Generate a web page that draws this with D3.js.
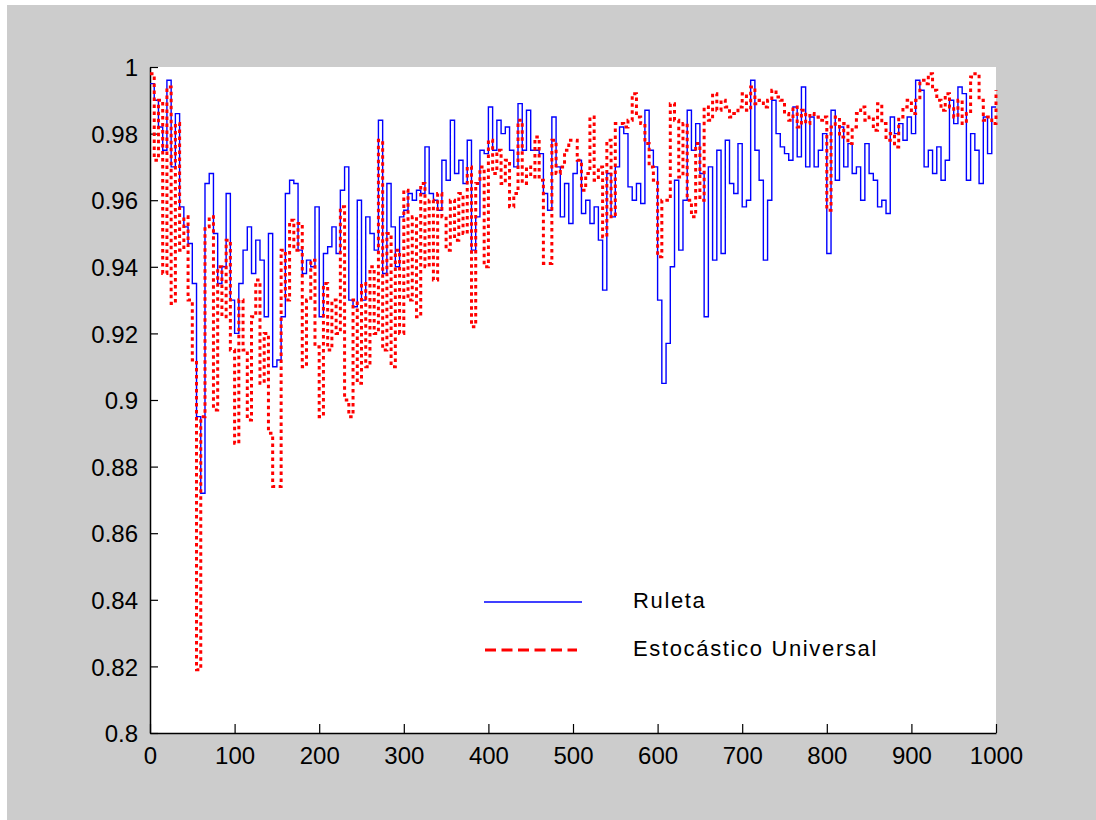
<!DOCTYPE html>
<html>
<head>
<meta charset="utf-8">
<script src="https://cdn.jsdelivr.net/npm/d3@7"></script>
<style>
  body { margin: 0; background: #ffffff; }
  text { font-family: "Liberation Sans", Arial, sans-serif; fill: #000; }
</style>
</head>
<body>
<svg id="chart" width="1096" height="820"></svg>
<script>
// samples every 5 generations, 0..1000
const step = 5;

const ruleta = [
  0.995, 0.990, 0.982, 0.975, 0.996, 0.970, 0.986, 0.958, 0.952, 0.947,
  0.935, 0.895, 0.872, 0.965, 0.968, 0.950, 0.935, 0.940, 0.962, 0.930,
  0.920, 0.935, 0.945, 0.952, 0.938, 0.948, 0.942, 0.925, 0.950, 0.910,
  0.912, 0.925, 0.962, 0.966, 0.965, 0.945, 0.938, 0.942, 0.940, 0.958,
  0.925, 0.944, 0.946, 0.952, 0.944, 0.963, 0.970, 0.930, 0.928, 0.960,
  0.930, 0.955, 0.950, 0.945, 0.984, 0.938, 0.965, 0.952, 0.940, 0.955,
  0.957, 0.962, 0.960, 0.963, 0.962, 0.976, 0.962, 0.960, 0.957, 0.972,
  0.966, 0.984, 0.968, 0.972, 0.965, 0.978, 0.945, 0.955, 0.975, 0.974,
  0.988, 0.975, 0.984, 0.980, 0.982, 0.975, 0.970, 0.989, 0.975, 0.987,
  0.975, 0.975, 0.974, 0.962, 0.957, 0.985, 0.970, 0.955, 0.965, 0.953,
  0.968, 0.972, 0.956, 0.960, 0.953, 0.958, 0.948, 0.933, 0.968, 0.955,
  0.970, 0.982, 0.980, 0.964, 0.960, 0.965, 0.959, 0.987, 0.975, 0.970,
  0.930, 0.905, 0.917, 0.940, 0.966, 0.945, 0.960, 0.987, 0.975, 0.983,
  0.968, 0.925, 0.970, 0.942, 0.975, 0.944, 0.978, 0.965, 0.962, 0.977,
  0.958, 0.960, 0.996, 0.975, 0.966, 0.942, 0.960, 0.990, 0.980, 0.976,
  0.974, 0.972, 0.988, 0.973, 0.994, 0.970, 0.985, 0.970, 0.975, 0.980,
  0.944, 0.987, 0.966, 0.982, 0.970, 0.977, 0.968, 0.970, 0.960, 0.977,
  0.968, 0.966, 0.958, 0.960, 0.956, 0.985, 0.980, 0.983, 0.978, 0.985,
  0.980, 0.996, 0.993, 0.970, 0.975, 0.968, 0.976, 0.966, 0.972, 0.990,
  0.983, 0.994, 0.992, 0.966, 0.980, 0.975, 0.965, 0.985, 0.974, 0.988,
  0.988
];

const estocastico = [
  0.998, 0.972, 0.990, 0.938, 0.994, 0.929, 0.983, 0.945, 0.955, 0.930,
  0.912, 0.819, 0.895, 0.952, 0.955, 0.897, 0.940, 0.925, 0.948, 0.915,
  0.887, 0.930, 0.915, 0.894, 0.925, 0.936, 0.905, 0.920, 0.890, 0.874,
  0.874, 0.945, 0.930, 0.954, 0.945, 0.953, 0.910, 0.930, 0.942, 0.916,
  0.895, 0.935, 0.915, 0.930, 0.920, 0.958, 0.900, 0.895, 0.930, 0.905,
  0.935, 0.910, 0.940, 0.920, 0.978, 0.915, 0.950, 0.910, 0.945, 0.920,
  0.963, 0.930, 0.955, 0.925, 0.965, 0.940, 0.960, 0.936, 0.962, 0.955,
  0.945, 0.960, 0.948, 0.962, 0.950, 0.970, 0.922, 0.965, 0.970, 0.940,
  0.978, 0.968, 0.975, 0.965, 0.972, 0.958, 0.962, 0.984, 0.965, 0.970,
  0.967, 0.979, 0.966, 0.941, 0.941, 0.978, 0.968, 0.970, 0.975, 0.978,
  0.978, 0.972, 0.963, 0.968, 0.985, 0.966, 0.970, 0.949, 0.978, 0.955,
  0.983, 0.983, 0.982, 0.984, 0.992, 0.985, 0.983, 0.977, 0.970, 0.966,
  0.943, 0.960, 0.960, 0.989, 0.984, 0.967, 0.983, 0.960, 0.955, 0.977,
  0.960, 0.988, 0.984, 0.992, 0.987, 0.990, 0.988, 0.985, 0.986, 0.988,
  0.992, 0.987, 0.994, 0.989, 0.990, 0.988, 0.990, 0.993, 0.991, 0.990,
  0.986, 0.984, 0.988, 0.982, 0.987, 0.983, 0.986, 0.985, 0.984, 0.985,
  0.957, 0.982, 0.985, 0.979, 0.983, 0.977, 0.982, 0.986, 0.988, 0.984,
  0.985, 0.981, 0.989, 0.983, 0.978, 0.980, 0.976, 0.985, 0.988, 0.990,
  0.986, 0.990, 0.996, 0.995, 0.998, 0.993, 0.990, 0.987, 0.992, 0.988,
  0.985, 0.990, 0.983, 0.986, 0.997, 0.998, 0.990, 0.984, 0.985, 0.983,
  0.993
];

const xTicks = [0, 100, 200, 300, 400, 500, 600, 700, 800, 900, 1000];
const yTicks = [0.8, 0.82, 0.84, 0.86, 0.88, 0.9, 0.92, 0.94, 0.96, 0.98, 1];
const yTickLabels = ["0.8", "0.82", "0.84", "0.86", "0.88", "0.9", "0.92", "0.94", "0.96", "0.98", "1"];
const seriesNames = ["Ruleta", "Estocástico Universal"];

const svg = d3.select("#chart");

// figure background (matlab grey)
svg.append("rect").attr("x", 7).attr("y", 5).attr("width", 1089).attr("height", 815).attr("fill", "#cccccc");

const axLeft = 150, axTop = 67, axRight = 996, axBottom = 733;

const x = d3.scaleLinear().domain([0, 1000]).range([axLeft, axRight]);
const y = d3.scaleLinear().domain([0.8, 1]).range([axBottom, axTop]);

svg.append("rect")
    .attr("x", axLeft).attr("y", axTop)
    .attr("width", axRight - axLeft).attr("height", axBottom - axTop)
    .attr("fill", "#ffffff");

// axes, ticks point inward
const xAxis = svg.append("g")
    .attr("transform", `translate(0,${axBottom})`)
    .call(d3.axisBottom(x).tickValues(xTicks).tickSizeInner(-9).tickSizeOuter(0).tickFormat(d3.format("d")));
xAxis.selectAll("text").attr("y", 31).attr("dy", 0).style("font-size", "24px");

const yAxis = svg.append("g")
    .attr("transform", `translate(${axLeft},0)`)
    .call(d3.axisLeft(y).tickValues(yTicks).tickSizeInner(-8).tickSizeOuter(0)
        .tickFormat((d, i) => yTickLabels[i]));
yAxis.selectAll("text").attr("x", -12).attr("dy", "0.36em").style("font-size", "24px");

svg.selectAll(".domain").attr("stroke", "#000").attr("stroke-width", 1.5);
svg.selectAll(".tick line").attr("stroke", "#000").attr("stroke-width", 1.2);

// lines
const line = d3.line()
    .x((d, i) => x(i * step))
    .y(d => y(d))
    .curve(d3.curveStepAfter);

svg.append("path")
    .datum(ruleta)
    .attr("fill", "none")
    .attr("stroke", "#0000ff")
    .attr("stroke-width", 1.4)
    .attr("d", line);

svg.append("path")
    .datum(estocastico)
    .attr("fill", "none")
    .attr("stroke", "#ff0000")
    .attr("stroke-width", 3)
    .attr("stroke-dasharray", "3.5,3.5")
    .attr("d", line);

// legend, no box
const legend = svg.append("g");
legend.append("line")
    .attr("x1", 484).attr("x2", 582).attr("y1", 602).attr("y2", 602)
    .attr("stroke", "#0000ff").attr("stroke-width", 1.5);
legend.append("line")
    .attr("x1", 485).attr("x2", 577).attr("y1", 650).attr("y2", 650)
    .attr("stroke", "#ff0000").attr("stroke-width", 3).attr("stroke-dasharray", "11,5.5");
legend.selectAll("text.lbl")
    .data(seriesNames)
    .join("text")
    .attr("class", "lbl")
    .attr("x", 633)
    .attr("y", (d, i) => 608 + i * 48)
    .style("font-size", "22px")
    .style("letter-spacing", "1.65px")
    .text(d => d);
</script>
</body>
</html>
